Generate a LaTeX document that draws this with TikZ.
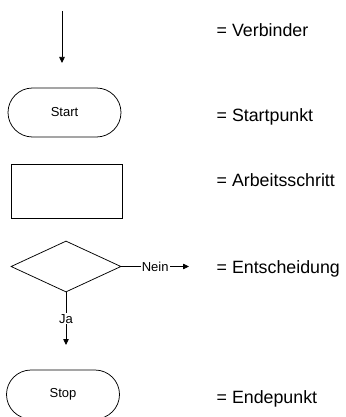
\documentclass[tikz,border=0pt]{standalone}
\usepackage{fontspec}
\setmainfont{Liberation Sans}
\usetikzlibrary{shapes.misc,shapes.geometric,arrows.meta}
\tikzset{
  terminal/.style={rounded rectangle, draw, line width=0.75pt, minimum width=113pt, minimum height=49pt, inner sep=0pt, font=\fontsize{13}{15}\selectfont},
  stepbox/.style={rectangle, draw, line width=0.75pt, minimum width=111pt, minimum height=54pt, inner sep=0pt},
  decision/.style={diamond, draw, line width=0.75pt, minimum width=110pt, minimum height=51pt, inner sep=0pt},
  arrowline/.style={line width=0.75pt, -{Triangle[length=6pt,width=5.5pt]}},
  edgelabel/.style={fill=white, inner sep=1pt, font=\fontsize{13}{15}\selectfont},
  legend/.style={anchor=base west, inner sep=0pt, font=\fontsize{17.8}{20}\selectfont}
}
\begin{document}
\begin{tikzpicture}[x=1pt,y=-1pt]
\useasboundingbox (0,0) rectangle (345,417);
\clip (0,0) rectangle (345,417);
% Verbinder
\coordinate (v1) at (62,11);
\coordinate (v2) at (62,63);
\draw[arrowline] (v1) -- (v2);
% shapes
\node[terminal] (start) at (64.5,112.5) {Start};
\node[stepbox] (box) at (66.5,191) {};
\node[decision] (dec) at (66,266.5) {};
\node[terminal] (stop) at (63,394.5) {Stop};
% decision branches
\coordinate (nein) at (189,266.5);
\coordinate (ja) at (66,345);
\draw[arrowline] (dec.east) -- node[edgelabel] {Nein} (nein);
\draw[arrowline] (dec.south) -- node[edgelabel] {Ja} (ja);
% legend texts
\node[legend] (t1) at (216.5,36.7) {= Verbinder};
\node[legend] (t2) at (216.5,121.7) {= Startpunkt};
\node[legend] (t3) at (216.5,186.7) {= Arbeitsschritt};
\node[legend] (t4) at (216.5,273.7) {= Entscheidung};
\node[legend] (t5) at (216.5,403.7) {= Endepunkt};
\end{tikzpicture}
\end{document}
